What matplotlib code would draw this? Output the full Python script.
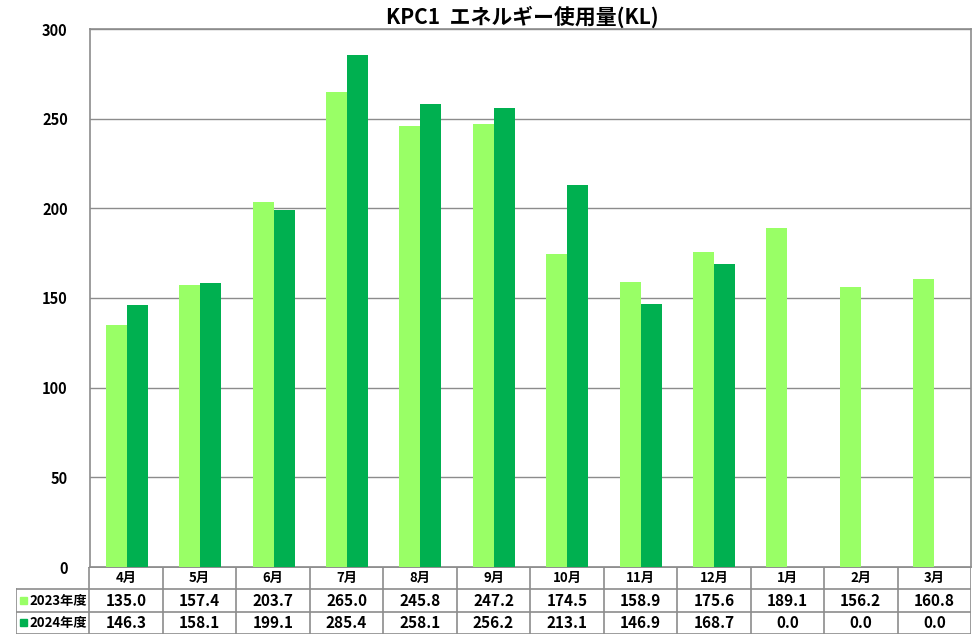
import matplotlib
matplotlib.use("Agg")
import matplotlib.pyplot as plt
import numpy as np

plt.rcParams['font.family'] = ['Noto Sans CJK JP', 'DejaVu Sans']

# data
months = ['4月', '5月', '6月', '7月', '8月', '9月', '10月', '11月', '12月', '1月', '2月', '3月']
fy2023 = [135.0, 157.4, 203.7, 265.0, 245.8, 247.2, 174.5, 158.9, 175.6, 189.1, 156.2, 160.8]
fy2024 = [146.3, 158.1, 199.1, 285.4, 258.1, 256.2, 213.1, 146.9, 168.7, 0.0, 0.0, 0.0]
series_names = ['2023年度', '2024年度']
yticks = [0, 50, 100, 150, 200, 250, 300]

c_light = '#99FF66'
c_dark = '#00B050'
c_line = '#8C8C8C'

W, H = 977, 638
fig = plt.figure(figsize=(W / 100, H / 100), dpi=100)

# main plot area in pixel coords
px_l, px_r, px_t, px_b = 90, 971, 29, 567
ax = fig.add_axes([px_l / W, (H - px_b) / H, (px_r - px_l) / W, (px_b - px_t) / H])

x = np.arange(len(months))
bw = 0.286
ax.bar(x - bw / 2, fy2023, bw, color=c_light, zorder=3)
ax.bar(x + bw / 2, fy2024, bw, color=c_dark, zorder=3)

ax.set_xlim(-0.5, len(months) - 0.5)
ax.set_ylim(0, 300)
ax.set_yticks(yticks)
ax.set_yticklabels([str(v) for v in yticks], fontsize=10.5, fontweight='bold')
ax.tick_params(axis='y', length=0, pad=16)
ax.set_xticks([])
ax.grid(axis='y', color=c_line, linewidth=1, zorder=0)
for s in ax.spines.values():
    s.set_color(c_line)
    s.set_linewidth(1.2)

fig.text(522 / W, 1 - 17 / H, 'KPC1  エネルギー使用量(KL)', ha='center', va='center',
         fontsize=15, fontweight='bold')

# data table below the chart
tb_t, tb_b, tb_l = 567, 634, 16
tax = fig.add_axes([tb_l / W, (H - tb_b) / H, (px_r - tb_l) / W, (tb_b - tb_t) / H])
tax.set_xlim(-1.5, len(months) - 0.5)
tax.set_ylim(3, 0)
tax.axis('off')

lk = dict(color=c_line, linewidth=1.2)
# horizontal lines
tax.plot([-0.5, len(months) - 0.5], [0, 0], **lk)
tax.plot([-1.5, len(months) - 0.5], [1, 1], **lk)
tax.plot([-1.5, len(months) - 0.5], [2, 2], **lk)
tax.plot([-1.5, len(months) - 0.5], [3, 3], **lk)
# vertical lines
tax.plot([-1.5, -1.5], [1, 3], **lk)
for i in range(len(months) + 1):
    tax.plot([i - 0.5, i - 0.5], [0, 3], **lk)

for i, m in enumerate(months):
    tax.text(i, 0.5, m, ha='center', va='center', fontsize=9.5, fontweight='bold')
    tax.text(i, 1.5, f'{fy2023[i]:.1f}', ha='center', va='center', fontsize=11, fontweight='bold')
    tax.text(i, 2.5, f'{fy2024[i]:.1f}', ha='center', va='center', fontsize=11, fontweight='bold')

for row, (name, col) in enumerate(zip(series_names, [c_light, c_dark])):
    yc = 1.5 + row
    tax.add_patch(plt.Rectangle((-1.44, yc - 0.16), 0.085, 0.32, color=col, clip_on=False))
    tax.text(-1.32, yc, name, ha='left', va='center', fontsize=9.5, fontweight='bold')

fig.savefig('out.png', dpi=100, facecolor='white')
